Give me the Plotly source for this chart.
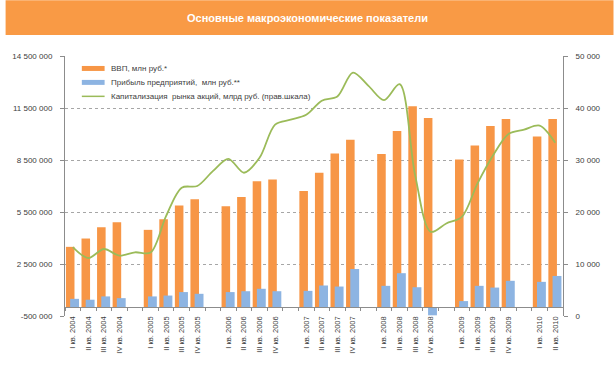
import plotly.graph_objects as go

# ---------------- data ----------------
quarters = [
    "I кв. 2004", "II кв. 2004", "III кв. 2004", "IV кв. 2004", " ",
    "I кв. 2005", "II кв. 2005", "III кв. 2005", "IV кв. 2005", "  ",
    "I кв. 2006", "II кв. 2006", "III кв. 2006", "IV кв. 2006", "   ",
    "I кв. 2007", "II кв. 2007", "III кв. 2007", "IV кв. 2007", "    ",
    "I кв. 2008", "II кв. 2008", "III кв. 2008", "IV кв. 2008", "     ",
    "I кв. 2009", "II кв. 2009", "III кв. 2009", "IV кв. 2009", "      ",
    "I кв. 2010", "II кв. 2010",
]

gdp = [3490000, 3970000, 4620000, 4910000, None,
       4470000, 5080000, 5870000, 6230000, None,
       5830000, 6360000, 7280000, 7380000, None,
       6710000, 7760000, 8870000, 9670000, None,
       8850000, 10170000, 11600000, 10920000, None,
       8530000, 9330000, 10460000, 10860000, None,
       9850000, 10860000]

profit = [490000, 440000, 630000, 530000, None,
          630000, 680000, 880000, 780000, None,
          880000, 930000, 1070000, 930000, None,
          950000, 1260000, 1200000, 2210000, None,
          1240000, 1970000, 1160000, -460000, None,
          360000, 1240000, 1140000, 1530000, None,
          1470000, 1810000]

cap = [13260, 11150, 12880, 11600, 12250,
       12200, 19250, 24680, 25000, 27860,
       30230, 27550, 30420, 36800, 37750,
       38700, 41400, 42200, 46800, 44260,
       41520, 44580, 27040, 16190, 17800,
       19060, 25450, 30870, 35020, 35840,
       36600, 33300]

left_ticks = [-500000, 2500000, 5500000, 8500000, 11500000, 14500000]
left_labels = ["-500 000", "2 500 000", "5 500 000", "8 500 000", "11 500 000", "14 500 000"]
right_ticks = [0, 10000, 20000, 30000, 40000, 50000]
right_labels = ["0", "10 000", "20 000", "30 000", "40 000", "50 000"]

title_text = "Основные макроэкономические показатели"
names = ["ВВП, млн руб.*", "Прибыль предприятий,  млн руб.**",
         "Капитализация  рынка акций, млрд руб. (прав.шкала)"]
colors = ["#F79646", "#8DB4E2", "#9BBB59"]

# ---------------- layout geometry ----------------
W, H = 614, 366
ML, MR, MT, MB = 60, 51, 56, 49
PW = W - ML - MR
PH = H - MT - MB

def px_x(x):
    return (x - ML) / PW

def px_y(y):
    return (H - MB - y) / PH

FONT = "Liberation Sans, Arial, sans-serif"
TXT = "#404040"
AX = "#8c8c8c"

fig = go.Figure()
fig.add_trace(go.Bar(
    x=quarters, y=gdp, name=names[0], showlegend=False,
    width=0.55, offset=-0.44,
    marker=dict(color=colors[0], line=dict(width=0)),
))
fig.add_trace(go.Bar(
    x=quarters, y=profit, name=names[1], showlegend=False,
    width=0.57, offset=-0.17,
    marker=dict(color=colors[1], line=dict(width=0)),
))
fig.add_trace(go.Scatter(
    x=quarters, y=cap, name=names[2], yaxis="y2", showlegend=False,
    mode="lines", line=dict(color=colors[2], width=1.8, shape="spline", smoothing=0.9),
))

ymin, ymax = left_ticks[0], left_ticks[-1]

# legend drawn as shapes + text (compact Excel-like legend)
shapes = [dict(
    type="rect", xref="paper", yref="paper",
    x0=px_x(0), x1=px_x(W), y0=px_y(35), y1=px_y(0),
    fillcolor="#F99A45", line=dict(width=0), layer="above",
)]
annotations = [dict(
    text="<b>" + title_text + "</b>", xref="paper", yref="paper",
    x=px_x(305), y=px_y(18), xanchor="center", yanchor="middle",
    showarrow=False, font=dict(family=FONT, size=11, color="white"),
)]
leg_y = [68.5, 82.5, 96.5]
for i in range(3):
    if i < 2:
        shapes.append(dict(type="rect", xref="paper", yref="paper",
                           x0=px_x(77), x1=px_x(100),
                           y0=px_y(leg_y[i] + 2.5), y1=px_y(leg_y[i] - 2.5),
                           fillcolor=colors[i], line=dict(width=0), layer="above"))
    else:
        shapes.append(dict(type="line", xref="paper", yref="paper",
                           x0=px_x(77), x1=px_x(100),
                           y0=px_y(leg_y[i]), y1=px_y(leg_y[i]),
                           line=dict(color=colors[i], width=1.5), layer="above"))
    annotations.append(dict(text=names[i], xref="paper", yref="paper",
                            x=px_x(104), y=px_y(leg_y[i]), xanchor="left", yanchor="middle",
                            showarrow=False, font=dict(family=FONT, size=8, color=TXT)))

fig.update_layout(
    width=W, height=H,
    margin=dict(l=ML, r=MR, t=MT, b=MB, pad=0),
    paper_bgcolor="white", plot_bgcolor="white",
    barmode="overlay",
    font=dict(family=FONT, size=8, color=TXT),
    showlegend=False,
    xaxis=dict(
        type="category", categoryorder="array", categoryarray=quarters,
        range=[-0.5, len(quarters) - 0.5],
        tickson="boundaries", ticks="outside", ticklen=3, tickcolor=AX,
        showline=True, linecolor=AX, linewidth=1,
        showgrid=False, zeroline=False,
        anchor="free", position=(0 - ymin) / (ymax - ymin),
        tickangle=-90, tickfont=dict(size=7.5, color=TXT),
        ticklabelstandoff=5,
    ),
    yaxis=dict(
        range=[ymin, ymax], tickvals=left_ticks, ticktext=left_labels,
        ticks="outside", ticklen=4, tickcolor=AX,
        showline=True, linecolor=AX, linewidth=1,
        showgrid=True, gridcolor="#a6a6a6", griddash="dot", gridwidth=1,
        zeroline=False, tickfont=dict(size=8, color=TXT),
        ticklabelstandoff=6,
    ),
    yaxis2=dict(
        overlaying="y", side="right",
        range=[right_ticks[0], right_ticks[-1]], tickvals=right_ticks, ticktext=right_labels,
        ticks="outside", ticklen=4, tickcolor=AX,
        showline=True, linecolor=AX, linewidth=1,
        showgrid=False, zeroline=False, tickfont=dict(size=8, color=TXT),
        ticklabelstandoff=6,
    ),
    shapes=shapes,
    annotations=annotations,
)

fig.write_html("out.html",
               config={"displayModeBar": False},
               post_script="document.body.style.margin='0';document.body.style.overflow='hidden';")
